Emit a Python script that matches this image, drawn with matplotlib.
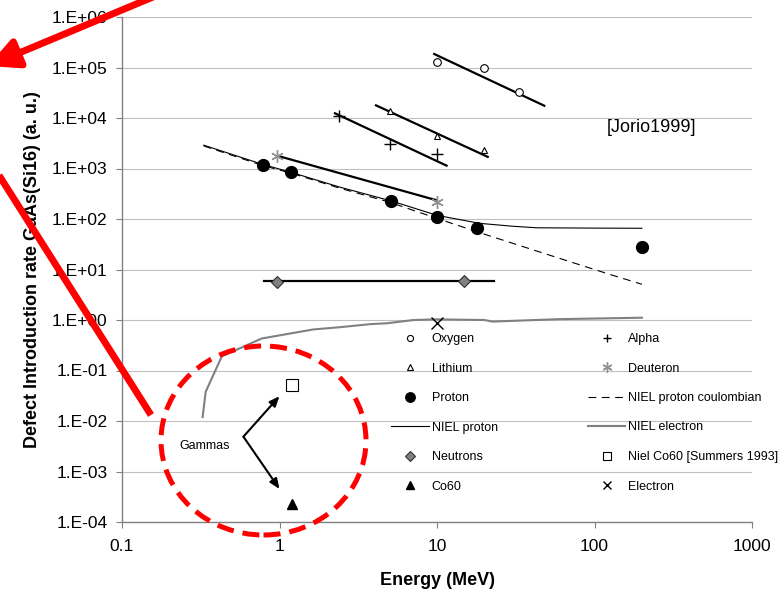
import matplotlib
matplotlib.use("Agg")
import matplotlib.pyplot as plt
from matplotlib.lines import Line2D
from matplotlib.patches import Ellipse, FancyArrowPatch
from matplotlib.ticker import FixedLocator, FixedFormatter, NullLocator

plt.rcParams['font.family'] = ['Liberation Sans', 'DejaVu Sans']

# ---------------- data ----------------
oxygen_x = [10, 20, 33]
oxygen_y = [1.3e5, 1.0e5, 3.3e4]
oxygen_fit_x = [9.6, 48]
oxygen_fit_y = [1.85e5, 1.75e4]

lithium_x = [5, 10, 20]
lithium_y = [1.4e4, 4.5e3, 2.3e3]
lithium_fit_x = [4.1, 21]
lithium_fit_y = [1.78e4, 1.7e3]

alpha_x = [2.4, 5, 10]
alpha_y = [1.1e4, 3.0e3, 1.9e3]
alpha_fit_x = [2.25, 11.5]
alpha_fit_y = [1.24e4, 1.14e3]

deuteron_x = [0.96, 10]
deuteron_y = [1.8e3, 220]
deuteron_fit_x = [0.98, 9.8]
deuteron_fit_y = [1.77e3, 238]

proton_x = [0.78, 1.19, 5.1, 10, 18, 200]
proton_y = [1.17e3, 840, 224, 108, 66, 27.5]

niel_p_x = [0.33, 0.5, 0.78, 1.2, 2.4, 5.2, 10, 18.7, 30, 43, 100, 200]
niel_p_y = [2900, 1900, 1210, 830, 430, 225, 118, 82, 72, 67, 66, 65.5]

niel_c_x = [0.33, 0.78, 1.2, 2.4, 5, 7, 12.4, 20, 57, 125, 200]
niel_c_y = [2800, 1150, 800, 410, 215, 150, 82, 50, 17.5, 8, 5.1]

niel_e_x = [0.325, 0.34, 0.43, 0.77, 1.64, 2.42, 3.8, 4.8, 7.1, 10, 20, 22.5, 60, 200]
niel_e_y = [0.012, 0.038, 0.19, 0.43, 0.65, 0.72, 0.83, 0.86, 1.0, 1.03, 1.0, 0.93, 1.04, 1.11]

neutron_x = [0.97, 14.8]
neutron_y = [5.6, 5.8]
neutron_fit_x = [0.8, 23]
neutron_fit_y = [6.0, 6.0]

co60_x = [1.2]
co60_y = [2.3e-4]
niel_co60_x = [1.2]
niel_co60_y = [0.052]
electron_x = [10]
electron_y = [0.87]

x_ticks = [0.1, 1, 10, 100, 1000]
x_tick_labels = ["0.1", "1", "10", "100", "1000"]
y_ticks = [1e-4, 1e-3, 1e-2, 1e-1, 1e0, 1e1, 1e2, 1e3, 1e4, 1e5, 1e6]
y_tick_labels = ["1.E-04", "1.E-03", "1.E-02", "1.E-01", "1.E+00", "1.E+01",
                 "1.E+02", "1.E+03", "1.E+04", "1.E+05", "1.E+06"]

W, H = 783, 590
fig = plt.figure(figsize=(W / 100, H / 100), dpi=100)
ax = fig.add_axes([122 / W, (H - 522) / H, (752 - 122) / W, (522 - 17) / H])
ax.set_xscale('log')
ax.set_yscale('log')
ax.set_xlim(0.1, 1000)
ax.set_ylim(1e-4, 1e6)

# fit lines
for fx, fy in [(oxygen_fit_x, oxygen_fit_y), (lithium_fit_x, lithium_fit_y),
               (alpha_fit_x, alpha_fit_y), (deuteron_fit_x, deuteron_fit_y),
               (neutron_fit_x, neutron_fit_y)]:
    ax.plot(fx, fy, color='black', lw=1.6, zorder=3)

h_niel_p, = ax.plot(niel_p_x, niel_p_y, color='black', lw=0.8, zorder=3, label='NIEL proton')
h_niel_c, = ax.plot(niel_c_x, niel_c_y, color='black', lw=0.8, ls=(0, (7, 5)), zorder=3,
                    label='NIEL proton coulombian')
h_niel_e, = ax.plot(niel_e_x, niel_e_y, color='#808080', lw=1.5, zorder=3, label='NIEL electron')

h_oxy, = ax.plot(oxygen_x, oxygen_y, ls='none', marker='o', ms=5.5, mfc='white', mec='black',
                 mew=0.8, zorder=4, label='Oxygen')
h_li, = ax.plot(lithium_x, lithium_y, ls='none', marker='^', ms=5, mfc='white', mec='black',
                mew=0.8, zorder=4, label='Lithium')
h_pr, = ax.plot(proton_x, proton_y, ls='none', marker='o', ms=8.5, mfc='black', mec='black',
                zorder=4, label='Proton')
h_neu, = ax.plot(neutron_x, neutron_y, ls='none', marker='D', ms=6, mfc='#808080', mec='#303030',
                 mew=0.8, zorder=4, label='Neutrons')
h_co, = ax.plot(co60_x, co60_y, ls='none', marker='^', ms=6.5, mfc='black', mec='black',
                zorder=4, label='Co60')
h_al, = ax.plot(alpha_x, alpha_y, ls='none', marker='+', ms=8, mec='black', mew=1.0,
                zorder=4, label='Alpha')
h_de, = ax.plot(deuteron_x, deuteron_y, ls='none', marker=(6, 2, 0), ms=9, mec='#909090',
                mew=1.0, zorder=4, label='Deuteron')
h_nco, = ax.plot(niel_co60_x, niel_co60_y, ls='none', marker='s', ms=8, mfc='white', mec='black',
                 mew=0.8, zorder=4, label='Niel Co60 [Summers 1993]')
h_el, = ax.plot(electron_x, electron_y, ls='none', marker='x', ms=8, mec='black', mew=1.0,
                zorder=4, label='Electron')

# axes styling
for s in ['top', 'right']:
    ax.spines[s].set_visible(False)
for s in ['left', 'bottom']:
    ax.spines[s].set_color('#808080')
    ax.spines[s].set_linewidth(1.0)
ax.xaxis.set_major_locator(FixedLocator(x_ticks))
ax.xaxis.set_major_formatter(FixedFormatter(x_tick_labels))
ax.yaxis.set_major_locator(FixedLocator(y_ticks))
ax.yaxis.set_major_formatter(FixedFormatter(y_tick_labels))
ax.xaxis.set_minor_locator(NullLocator())
ax.yaxis.set_minor_locator(NullLocator())
ax.tick_params(axis='both', direction='out', length=4, width=0.8, color='#808080',
               labelsize=12.5, labelcolor='black')
ax.tick_params(axis='y', pad=6.5)
ax.tick_params(axis='x', pad=8)
ax.grid(axis='y', color='#c0c0c0', lw=0.8)
ax.set_axisbelow(True)

ax.set_xlabel('Energy (MeV)', fontsize=13, fontweight='bold', labelpad=13)
ax.set_ylabel('Defect Introduction rate GaAs(Si16) (a. u.)', fontsize=13, fontweight='bold',
              labelpad=8)

ax.text(119, 6.4e3, '[Jorio1999]', fontsize=13, ha='left', va='center')

# Gammas annotation
ax.text(0.336, 3.2e-3, 'Gammas', fontsize=9, ha='center', va='center')
for tgt in [(1.0, 0.031), (1.0, 4.5e-4)]:
    ax.annotate('', xy=tgt, xytext=(0.59, 4.9e-3),
                arrowprops=dict(arrowstyle='-|>,head_length=0.6,head_width=0.25',
                                color='black', lw=1.5, shrinkA=0, shrinkB=0))

# legend (column-major order)
handles = [h_oxy, h_li, h_pr, h_niel_p, h_neu, h_co,
           h_al, h_de, h_niel_c, h_niel_e, h_nco, h_el]
leg = fig.legend(handles=handles, labels=[h.get_label() for h in handles], ncol=2,
                 loc='upper left', bbox_to_anchor=(391 / W, 1 - 333 / H), frameon=False,
                 fontsize=9, handlelength=3.0, handletextpad=0.25, columnspacing=7.2,
                 labelspacing=1.4, borderpad=0, borderaxespad=0, markerscale=0.8)

# red overlay annotations
ell = Ellipse((263.5 / W, 1 - 440.5 / H), 205 / W, 189 / H, transform=fig.transFigure,
              fill=False, edgecolor='#ff0000', lw=3.6, linestyle=(0, (3.4, 1.8)),
              zorder=10, clip_on=False)
fig.add_artist(ell)
fig.add_artist(Line2D([-5 / W, 151 / W], [1 - 169 / H, 1 - 415 / H], transform=fig.transFigure,
                      color='#ff0000', lw=5, solid_capstyle='butt', zorder=10))
arr = FancyArrowPatch((165 / W, 1 + 8 / H), (-12 / W, 1 - 66 / H), transform=fig.transFigure,
                      arrowstyle='-|>,head_length=0.9,head_width=0.45', mutation_scale=20,
                      color='#ff0000', lw=5, shrinkA=0, shrinkB=0, zorder=10, clip_on=False)
fig.add_artist(arr)

fig.savefig('out.png', dpi=100)
